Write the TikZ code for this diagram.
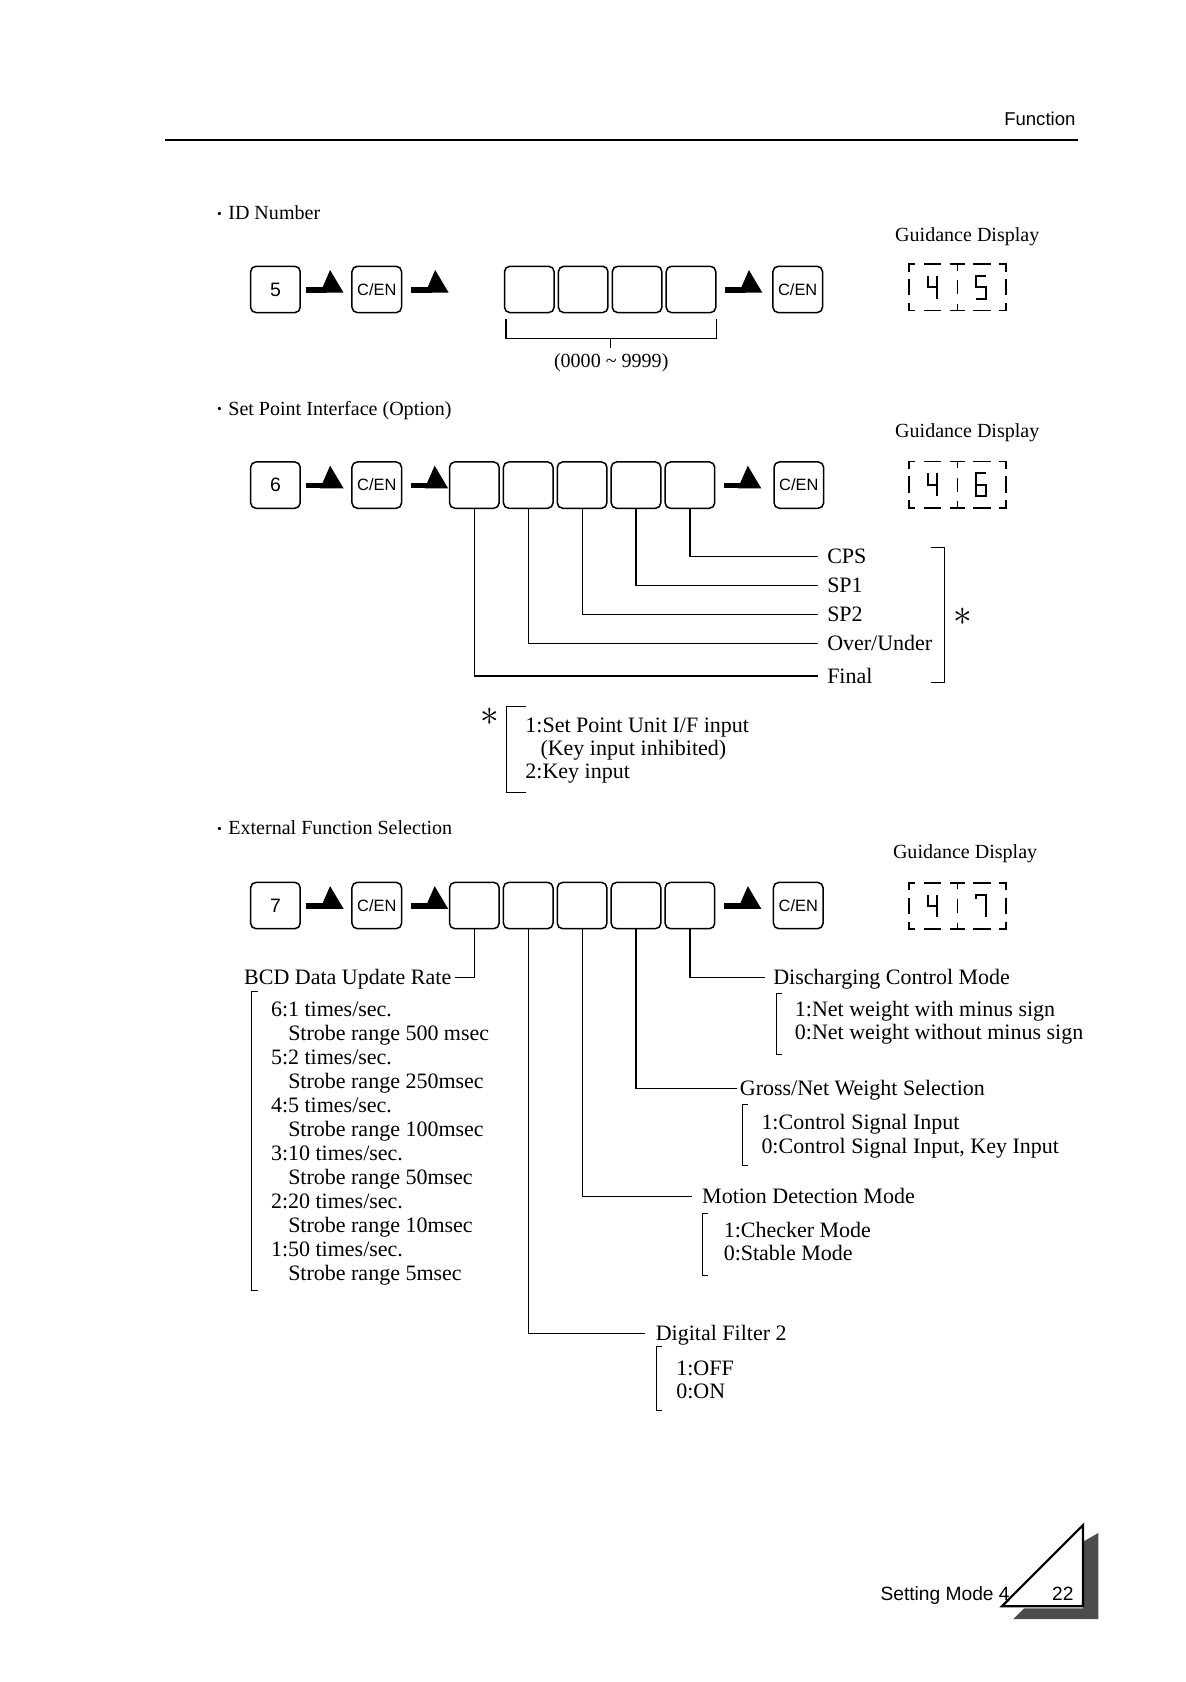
\documentclass[tikz,border=0pt]{standalone}
\usepackage{fontspec}
\setmainfont{Liberation Serif}
\newfontfamily\arialfont{Liberation Sans}
\usetikzlibrary{calc}
\newcommand\dfour{\draw[seg] (-4.5,11) -- (-4.5,21.5) -- (4.5,21.5); \draw[seg] (4.5,11) -- (4.5,32);}
\newcommand\dfive{\draw[seg] (4.5,11) -- (-4.5,11) -- (-4.5,21.5) -- (4.5,21.5) -- (4.5,32) -- (-4.5,32);}
\newcommand\dsix{\draw[seg] (4.5,11) -- (-4.5,11) -- (-4.5,32) -- (4.5,32) -- (4.5,21.5) -- (-4.5,21.5);}
\newcommand\dseven{\draw[seg] (-4.5,15) -- (-4.5,11) -- (4.5,11) -- (4.5,32);}
\newcommand\bul{\raisebox{0.12ex}{\scalebox{0.68}{\textbullet}}\hspace{3pt}}
\newcommand\gdisp[3]{%
\begin{scope}[shift={(#1,#2)}]
 \draw[gd] (0,7) -- (0,0) -- (6,0);
 \draw[gd] (14,0) -- (30,0);
 \draw[gd] (38,0) -- (52,0) (45,0) -- (45,6);
 \draw[gd] (60,0) -- (76,0);
 \draw[gd] (84,0) -- (90,0) -- (90,7);
 \draw[gd] (0,14) -- (0,29) (90,14) -- (90,29) (45,15) -- (45,28);
 \draw[gd] (0,36) -- (0,43) -- (6,43);
 \draw[gd] (14,43) -- (30,43);
 \draw[gd] (38,43) -- (52,43) (45,43) -- (45,37);
 \draw[gd] (60,43) -- (76,43);
 \draw[gd] (84,43) -- (90,43) -- (90,36);
 \begin{scope}[shift={(22,0)}]\dfour\end{scope}
 \begin{scope}[shift={(67,0)}]#3\end{scope}
\end{scope}}
\begin{document}
\begin{tikzpicture}[x=0.5pt,y=-0.5pt,
  key/.style={draw, rounded corners=2.5pt, minimum width=23pt, minimum height=21.5pt, inner sep=0pt, line width=0.7pt, font=\arialfont\fontsize{7.6}{8}\selectfont},
  numkey/.style={key, font=\arialfont\fontsize{9}{9}\selectfont},
  cell/.style={draw, rounded corners=2.5pt, minimum width=23pt, minimum height=21.5pt, inner sep=0pt, line width=0.7pt},
  lbl/.style={inner sep=0pt, anchor=base west, yshift=-3.3pt, font=\fontsize{10.2}{11}\selectfont},
  hd/.style={inner sep=0pt, anchor=base west, yshift=-3pt, font=\fontsize{9.3}{10}\selectfont},
  star/.style={inner sep=0pt, font=\fontsize{18}{18}\selectfont},
  conn/.style={line width=0.55pt},
  brk/.style={line width=0.45pt},
  gd/.style={line width=0.7pt},
  seg/.style={line width=0.9pt},
  fatarr/.pic={\fill (0,-2) rectangle (19,3); \fill (12.8,3) -- (22,-18) -- (34.5,3) -- cycle;}
]
\useasboundingbox (0,0) rectangle (1100.2,1560.3);

% header
\node[inner sep=0pt, anchor=base east, yshift=-3pt, font=\arialfont\fontsize{8.6}{9}\selectfont] (fn) at (998,110) {Function};
\draw[line width=1.1pt] (153,130) -- (1000,130);

% ---------- section 1 ----------
\node[hd] (h1) at (201,197.6) {\bul ID Number};
\node[hd] (gd1) at (830,218) {Guidance Display};
\node[numkey] (a0) at (255.5,268.5) {5};
\node[key] (aC1) at (349.5,268.5) {C/EN};
\node[cell] (a1) at (491,268.5) {};
\node[cell] (a2) at (541,268.5) {};
\node[cell] (a3) at (591,268.5) {};
\node[cell] (a4) at (641,268.5) {};
\node[key] (aC2) at (740,268.5) {C/EN};
\pic at ($(a0.east)+(5,0)$) {fatarr};
\pic at ($(aC1.east)+(8.5,0)$) {fatarr};
\pic at ($(a4.east)+(8,0)$) {fatarr};
\gdisp{843}{245}{\dfive}
\coordinate (brm) at ($(a1.south west)!0.5!(a4.south east)$);
\draw[conn] ($(a1.south west)+(2,5)$) |- ($(a4.south east)+(0,23)$) -- ($(a4.south east)+(0,5)$);
\draw[conn] ($(brm)+(0,23)$) -- ($(brm)+(0,32)$) coordinate (brt);
\node[inner sep=0pt, anchor=base, yshift=-3pt, font=\fontsize{9.3}{10}\selectfont] (rng) at (567,335) {(0000 \textasciitilde{} 9999)};

% ---------- section 2 ----------
\node[hd] (h2) at (201,379) {\bul Set Point Interface (Option)};
\node[hd] (gd2) at (830,399.5) {Guidance Display};
\node[numkey] (b0) at (255.5,450) {6};
\node[key] (bC1) at (349.5,450) {C/EN};
\node[cell] (b1) at (440,450) {};
\node[cell] (b2) at (490,450) {};
\node[cell] (b3) at (540,450) {};
\node[cell] (b4) at (590,450) {};
\node[cell] (b5) at (640,450) {};
\node[key] (bC2) at (741,450) {C/EN};
\pic at ($(b0.east)+(5,0)$) {fatarr};
\pic at ($(bC1.east)+(8,0)$) {fatarr};
\pic at ($(b5.east)+(8,0)$) {fatarr};
\gdisp{843}{428}{\dsix}

\coordinate (tCPS) at (759,516);
\coordinate (tSP1) at (759,543);
\coordinate (tSP2) at (759,570);
\coordinate (tOU) at (759,597);
\coordinate (tFin) at (759,627);
\draw[conn] (b5.south) |- (tCPS);
\draw[conn] (b4.south) |- (tSP1);
\draw[conn] (b3.south) |- (tSP2);
\draw[conn] (b2.south) |- (tOU);
\draw[conn] (b1.south) |- (tFin);
\node[lbl, xshift=4pt] (CPS) at (tCPS) {CPS};
\node[lbl, xshift=4pt] (SP1) at (tSP1) {SP1};
\node[lbl, xshift=4pt] (SP2) at (tSP2) {SP2};
\node[lbl, xshift=4pt] (OU) at (tOU) {Over/Under};
\node[lbl, xshift=4pt] (Fin) at (tFin) {Final};
\draw[brk] (864,508) -- (876,508) -- (876,633) -- (864,633);
\node[star] (st1) at (893,572) {$\ast$};

\node[star] (st2) at (454,665) {$\ast$};
\draw[brk] (488,655) -- (470,655) -- (470,735) -- (488,735);
\node[lbl] (sp1) at (487,672.5) {1:Set Point Unit I/F input};
\node[lbl] (sp2) at (501,694.5) {(Key input inhibited)};
\node[lbl] (sp3) at (487,716) {2:Key input};

% ---------- section 3 ----------
\node[hd] (h3) at (201,768.5) {\bul External Function Selection};
\node[hd] (gd3) at (828,790) {Guidance Display};
\node[numkey] (c0) at (255.5,840) {7};
\node[key] (cC1) at (349.5,840) {C/EN};
\node[cell] (c1) at (440,840) {};
\node[cell] (c2) at (490,840) {};
\node[cell] (c3) at (540,840) {};
\node[cell] (c4) at (590,840) {};
\node[cell] (c5) at (640,840) {};
\node[key] (cC2) at (740.5,840) {C/EN};
\pic at ($(c0.east)+(5,0)$) {fatarr};
\pic at ($(cC1.east)+(8,0)$) {fatarr};
\pic at ($(c5.east)+(8,0)$) {fatarr};
\gdisp{843}{819}{\dseven}

\coordinate (tBCD) at (422,907);
\coordinate (tDis) at (710,907);
\coordinate (tGro) at (684,1010);
\coordinate (tMot) at (642,1110);
\coordinate (tFil) at (598,1237);
\draw[conn] (c1.south) |- (tBCD);
\draw[conn] (c5.south) |- (tDis);
\draw[conn] (c4.south) |- (tGro);
\draw[conn] (c3.south) |- (tMot);
\draw[conn] (c2.south) |- (tFil);
\node[lbl, anchor=base east, xshift=-1.5pt] (BCD) at (tBCD) {BCD Data Update Rate};
\node[lbl, xshift=3.5pt] (Dis) at (tDis) {Discharging Control Mode};
\node[lbl, xshift=1pt] (Gro) at (tGro) {Gross/Net Weight Selection};
\node[lbl, xshift=4.5pt] (Mot) at (tMot) {Motion Detection Mode};
\node[lbl, xshift=5pt] (Fil) at (tFil) {Digital Filter 2};

% BCD list
\draw[brk] (239,920) -- (233,920) -- (233,1197) -- (239,1197);
\foreach \txt/\xx [count=\i from 0] in {{6:1 times/sec.}/251, {Strobe range 500 msec}/267, {5:2 times/sec.}/251, {Strobe range 250msec}/267, {4:5 times/sec.}/251, {Strobe range 100msec}/267, {3:10 times/sec.}/251, {Strobe range 50msec}/267, {2:20 times/sec.}/251, {Strobe range 10msec}/267, {1:50 times/sec.}/251, {Strobe range 5msec}/267}
  \node[lbl] (bcd\i) at (\xx,936+22.27*\i) {\txt};

% discharging
\draw[brk] (725,922) -- (720,922) -- (720,978) -- (725,978);
\node[lbl] (dis1) at (737,936) {1:Net weight with minus sign};
\node[lbl] (dis2) at (737,958) {0:Net weight without minus sign};
% gross/net
\draw[brk] (694,1025) -- (689,1025) -- (689,1081) -- (694,1081);
\node[lbl] (gro1) at (706,1041) {1:Control Signal Input};
\node[lbl] (gro2) at (706,1063) {0:Control Signal Input, Key Input};
% motion
\draw[brk] (657,1126) -- (652,1126) -- (652,1183) -- (657,1183);
\node[lbl] (mot1) at (671,1141) {1:Checker Mode};
\node[lbl] (mot2) at (671,1163) {0:Stable Mode};
% filter
\draw[brk] (614,1249) -- (609,1249) -- (609,1308) -- (614,1308);
\node[lbl] (fil1) at (627,1269) {1:OFF};
\node[lbl] (fil2) at (627,1291) {0:ON};

% footer
\fill[black!70] (1005,1430) -- (1019,1422) -- (1019,1502) -- (940,1502) -- (950,1492) -- (1005,1492) -- cycle;
\draw[line width=1pt, fill=white] (929.5,1490) -- (1004.6,1414.7) -- (1004.6,1490) -- cycle;
\node[inner sep=0pt, anchor=base east, yshift=-3.2pt, font=\arialfont\fontsize{8.9}{9}\selectfont] (sm) at (937,1478) {Setting Mode 4};
\node[inner sep=0pt, anchor=base, yshift=-3.2pt, font=\arialfont\fontsize{8.9}{9}\selectfont] (pg) at (986,1478) {22};
\end{tikzpicture}
\end{document}
